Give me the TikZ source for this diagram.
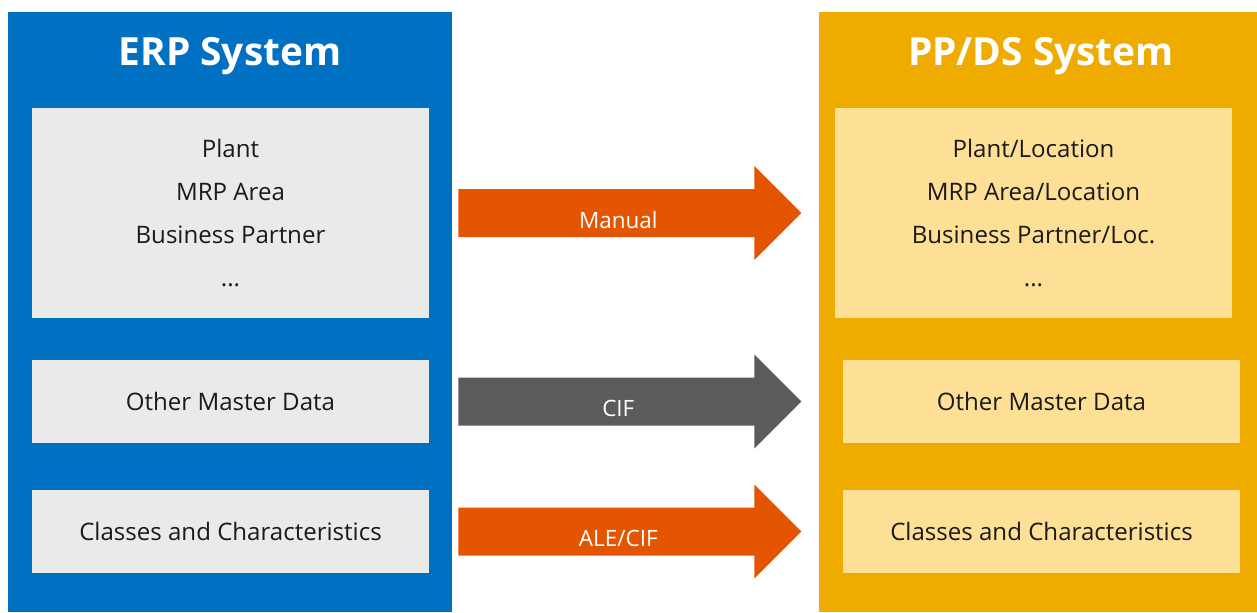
\documentclass[tikz,border=0pt]{standalone}
\usepackage{fontspec}
\setmainfont{Open Sans}
\usepackage{tikz}
\usetikzlibrary{positioning,calc}

\definecolor{erpblue}{HTML}{0070C2}
\definecolor{ppdsgold}{HTML}{EFAB00}
\definecolor{boxgrey}{HTML}{EAEAEA}
\definecolor{boxyellow}{HTML}{FDDF95}
\definecolor{flowred}{HTML}{E35500}
\definecolor{flowgrey}{HTML}{5B5B5B}
\definecolor{inktext}{HTML}{1A1A1A}

\tikzset{
	panel/.style = {inner sep=0, minimum height=12cm},
	title/.style = {text=white, font=\fontsize{22.1}{26}\selectfont\bfseries},
	databox/.style = {inner sep=0, minimum width=7.94cm, align=center, text=inktext,
		font=\fontsize{13.7}{24.5}\selectfont},
	flowlabel/.style = {text=white, anchor=base, font=\fontsize{12.8}{15}\selectfont},
}

% arrow: start coordinate, colour
\newcommand{\flowarrow}[2]{%
	\fill[#2] (#1) ++(0,-24) -- ++(296,0) -- ++(0,-23) -- ++(47,47) -- ++(-47,47)
		-- ++(0,-23) -- ++(-296,0) -- cycle;}

\begin{document}
\begin{tikzpicture}[x=0.02cm, y=-0.02cm]
	\useasboundingbox (0,0) rectangle (1257,612);

	% systems
	\node[panel, fill=erpblue, minimum width=8.88cm] (erp) at (230,312) {};
	\node[panel, fill=ppdsgold, minimum width=8.76cm] (ppds) at (1038,312) {};
	\node[title] (erptitle) at (230,56) {ERP System};
	\node[title] (ppdstitle) at (1041,56) {PP/DS System};

	% ERP data
	\node[databox, fill=boxgrey, minimum height=4.2cm] (erporg) at (230.5,213)
		{\raisebox{-3pt}{\parbox{7cm}{\centering Plant\\MRP Area\\Business Partner\\...}}};
	\node[databox, fill=boxgrey, minimum height=1.66cm] (erpother) at (230.5,401.5)
		{Other Master Data};
	\node[databox, fill=boxgrey, minimum height=1.66cm] (erpclass) at (230.5,531.5)
		{Classes and Characteristics};

	% PP/DS data
	\node[databox, fill=boxyellow, minimum height=4.2cm] (ppdsorg) at (1033.5,213)
		{\raisebox{-3pt}{\parbox{7cm}{\centering Plant/Location\\MRP Area/Location\\Business Partner/Loc.\\...}}};
	\node[databox, fill=boxyellow, minimum height=1.66cm] (ppdsother) at (1041.5,401.5)
		{Other Master Data};
	\node[databox, fill=boxyellow, minimum height=1.66cm] (ppdsclass) at (1041.5,531.5)
		{Classes and Characteristics};

	% transfers
	\coordinate (manual) at ($(erp.east |- erporg)+(6,0)$);
	\coordinate (cif) at ($(erp.east |- erpother)+(6,0)$);
	\coordinate (alecif) at ($(erp.east |- erpclass)+(6,0)$);
	\flowarrow{manual}{flowred}
	\flowarrow{cif}{flowgrey}
	\flowarrow{alecif}{flowred}
	\node[flowlabel] (manuallbl) at ($(manual)+(160,15)$) {Manual};
	\node[flowlabel] (ciflbl) at ($(cif)+(160,15)$) {CIF};
	\node[flowlabel] (alecifl) at ($(alecif)+(160,15)$) {ALE/CIF};

\end{tikzpicture}
\end{document}
